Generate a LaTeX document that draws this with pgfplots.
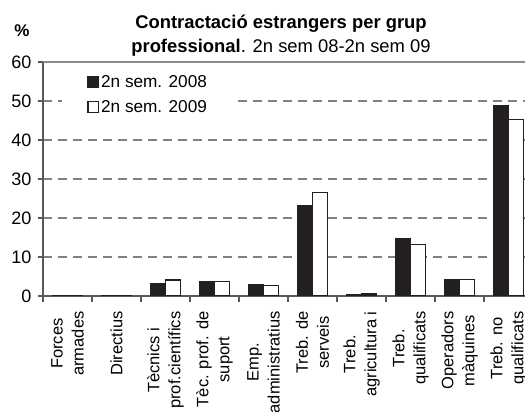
\documentclass[border=0pt]{standalone}
\usepackage{pgfplots}
\pgfplotsset{compat=1.18}
\usepackage{fontspec}
\setmainfont{Liberation Sans}
\definecolor{barblack}{HTML}{231F20}
\begin{document}
\begin{tikzpicture}[x=1pt,y=1pt]
\useasboundingbox (0,0) rectangle (525,412);
\clip (0,0) rectangle (525,412);
\begin{axis}[
  at={(43pt,116pt)}, anchor=south west,
  scale only axis, width=490pt, height=234pt,
  xmin=-0.5, xmax=9.5, ymin=0, ymax=60,
  ybar=0pt, bar width=15pt,
  axis x line*=bottom, axis y line*=left,
  axis line style={color=black!65, line width=1.3pt},
  xtick={0,...,9},
  xticklabels={{Forces\\armades},{Directius},{Tècnics i\\prof.científics},{Tèc. prof. de\\suport},{Emp.\\administratius},{Treb. de\\serveis},{Treb.\\agricultura i},{Treb.\\qualificats},{Operadors\\màquines},{Treb. no\\qualificats}},
  minor xtick={-0.5,0.5,...,9.5},
  major x tick style={draw=none},
  minor x tick style={color=black!65, line width=1.2pt},
  minor tick length=6pt,
  tick align=outside,
  ytick={0,10,...,60},
  major y tick style={color=black!65, line width=1.2pt},
  major tick length=5pt,
  ymajorgrids,
  grid style={color=black!50, line width=1.3pt, dash pattern=on 9pt off 6pt},
  xticklabel style={rotate=90, anchor=east, align=center, font=\fontsize{16.5}{21}\selectfont},
  xticklabel shift=7pt,
  yticklabel style={font=\fontsize{18}{21}\selectfont},
  yticklabel shift=3pt,
  /pgf/number format/assume math mode=true,
  legend style={at={(axis description cs:0.039,0.975)}, anchor=north west, draw=none, fill=white,
    font=\fontsize{17.2}{20}\selectfont, row sep=8pt, inner xsep=25pt, inner ysep=5pt,
    cells={anchor=west}},
  legend cell align=left,
]
\addplot[fill=barblack, draw=barblack, line width=1.2pt,
  legend image code/.code={\draw[fill=barblack,draw=barblack,line width=1pt] (0pt,-5.5pt) rectangle (10.5pt,5.5pt);}]
  coordinates {(0,0.15) (1,0.1) (2,3.1) (3,3.6) (4,2.9) (5,23.3) (6,0.3) (7,14.8) (8,4.3) (9,48.8)};
\addplot[fill=white, draw=barblack, line width=1.2pt,
  legend image code/.code={\draw[fill=white,draw=barblack,line width=1.3pt] (0pt,-5.5pt) rectangle (10.5pt,5.5pt);}]
  coordinates {(0,0.2) (1,0.2) (2,4.1) (3,3.8) (4,2.6) (5,26.5) (6,0.5) (7,13.3) (8,4.2) (9,45.3)};
\legend{2n sem. 2008, 2n sem. 2009}
\draw[color=black!45, line width=1.3pt] (rel axis cs:0,1) -- (rel axis cs:1,1);
\end{axis}
\node[font=\fontsize{18.4}{22}\selectfont\bfseries] at (281,388) {Contractació estrangers per grup};
\node[font=\fontsize{18.4}{22}\selectfont] at (281,364) {\textbf{professional}. 2n sem 08-2n sem 09};
\node[font=\fontsize{17}{20}\selectfont\bfseries] at (22,381) {\%};
\end{tikzpicture}
\end{document}
